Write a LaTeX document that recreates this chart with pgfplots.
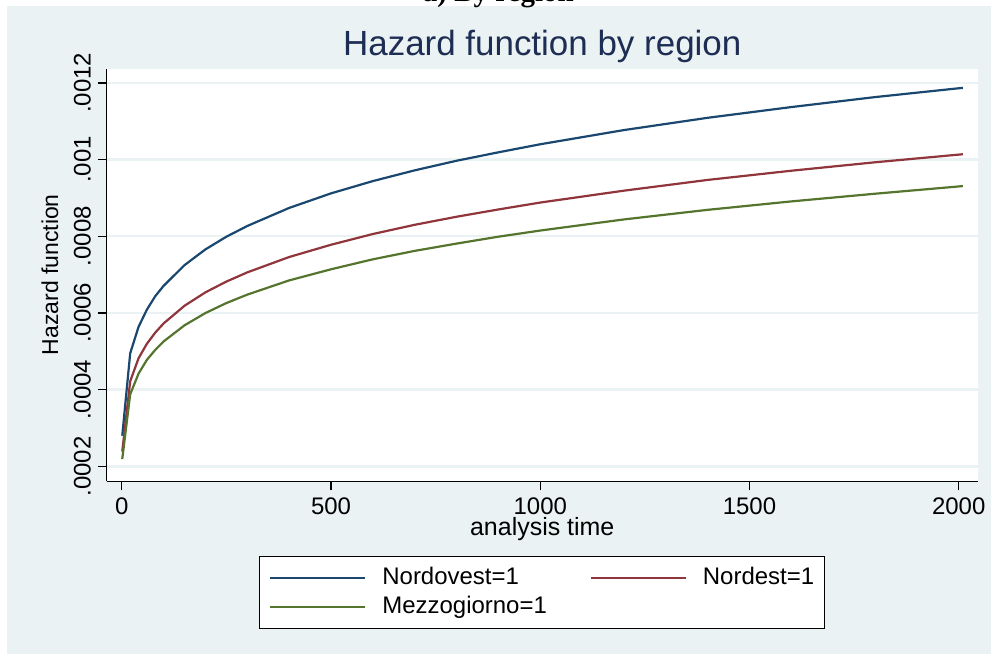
\documentclass[border=0pt]{standalone}
\usepackage{fontspec}
\setmainfont{Liberation Sans}
\newfontfamily\serifbold{Liberation Serif}
\usepackage{pgfplots}
\pgfplotsset{compat=1.18}
\definecolor{bgc}{HTML}{EAF2F3}
\definecolor{sblue}{HTML}{1A476F}
\definecolor{sred}{HTML}{90353B}
\definecolor{sgreen}{HTML}{55752F}
\definecolor{ttl}{HTML}{1E2D53}

\begin{document}
\begin{tikzpicture}
\begin{scope}[x=0.5pt,y=0.5pt]
\useasboundingbox (0,0) rectangle (992,655);
\fill[white] (0,0) rectangle (992,655);
\fill[bgc] (7,0) rectangle (992,649);
\node[anchor=base, font=\serifbold\bfseries\fontsize{14.5}{17}\selectfont] at (499,653.5) {a) By region};

\node[font=\fontsize{17.5}{20}\selectfont, text=ttl] at (543,608) {Hazard function by region};
\node[font=\fontsize{12.5}{15}\selectfont] at (543,125) {analysis time};
\node[font=\fontsize{11.5}{14}\selectfont, rotate=90] at (50,380) {Hazard function};
\end{scope}

\begin{axis}[
    at={(53.5pt,86.5pt)}, anchor=south west,
    scale only axis,
    width=436pt, height=206.5pt,
    xmin=-35.8, xmax=2045.3,
    ymin=0.000161, ymax=0.0012365,
    axis x line*=bottom, axis y line*=left,
    axis line style={black, line width=0.6pt, -},
    axis background/.style={fill=white},
    xtick={0,500,1000,1500,2000},
    xticklabels={0,500,1000,1500,2000},
    ytick={0.0002,0.0004,0.0006,0.0008,0.001,0.0012},
    yticklabels={.0002,.0004,.0006,.0008,.001,.0012},
    scaled y ticks=false,
    scaled x ticks=false,
    tick align=outside,
    major tick length=4.5pt,
    tick style={black, line width=0.6pt},
    ymajorgrids,
    grid style={bgc, line width=1.2pt},
    ticklabel style={font=\fontsize{12}{14}\selectfont},
    yticklabel style={rotate=90, anchor=south},
    legend columns=2,
    legend cell align=left,
    legend style={
        at={(0.4994,-0.1816)}, anchor=north,
        draw=black, fill=white, line width=0.6pt,
        inner xsep=5pt, inner ysep=5pt,
        font=\fontsize{12}{14}\selectfont,
        row sep=3.5pt,
        nodes={inner xsep=0pt, inner ysep=0pt, text height=8.6pt, text depth=2.5pt},
        /tikz/every odd column/.append style={column sep=8pt},
        /tikz/every even column/.append style={column sep=21.5pt},
    },
    legend image code/.code={\draw[#1] (0pt,0pt) -- (47.5pt,0pt);},
]
\addplot[sblue, line width=1.1pt] coordinates {
(1,0.000280) (20,0.000495) (40,0.000564) (60,0.000609) (80,0.000644)
(100,0.000671) (150,0.000725) (200,0.000766) (250,0.000799) (300,0.000827)
(400,0.000874) (500,0.000912) (600,0.000944) (700,0.000972) (800,0.000997)
(900,0.001019) (1000,0.001040) (1200,0.001077) (1400,0.001109) (1600,0.001137)
(1800,0.001163) (2000,0.001186) (2010,0.001187)
};
\addlegendentry{Nordovest=1}
\addplot[sred, line width=1.1pt] coordinates {
(1,0.000239) (20,0.000422) (40,0.000482) (60,0.000520) (80,0.000549)
(100,0.000573) (150,0.000619) (200,0.000654) (250,0.000682) (300,0.000706)
(400,0.000746) (500,0.000778) (600,0.000806) (700,0.000830) (800,0.000851)
(900,0.000870) (1000,0.000888) (1200,0.000919) (1400,0.000947) (1600,0.000971)
(1800,0.000993) (2000,0.001013) (2010,0.001014)
};
\addlegendentry{Nordest=1\hspace{4.5pt}}
\addplot[sgreen, line width=1.1pt] coordinates {
(1,0.000219) (20,0.000388) (40,0.000442) (60,0.000478) (80,0.000504)
(100,0.000526) (150,0.000568) (200,0.000600) (250,0.000626) (300,0.000648)
(400,0.000685) (500,0.000714) (600,0.000740) (700,0.000762) (800,0.000781)
(900,0.000799) (1000,0.000815) (1200,0.000844) (1400,0.000869) (1600,0.000891)
(1800,0.000911) (2000,0.000930) (2010,0.000931)
};
\addlegendentry{Mezzogiorno=1}
\end{axis}
\end{tikzpicture}
\end{document}
